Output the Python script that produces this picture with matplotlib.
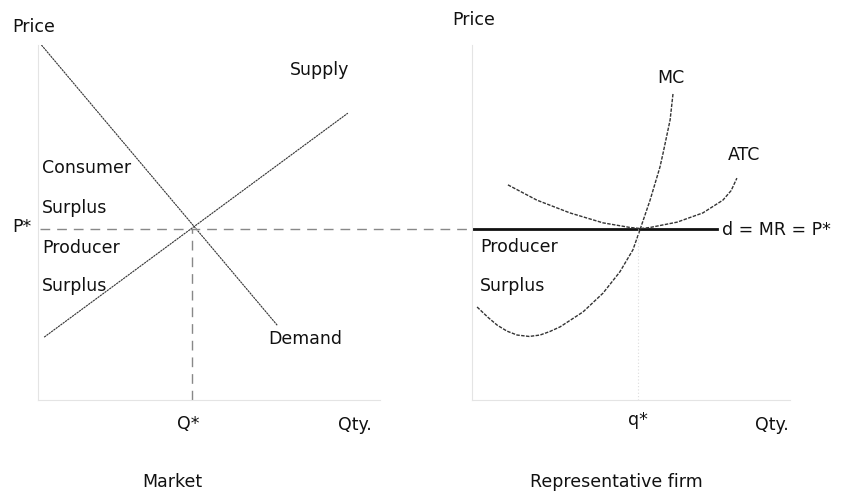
import numpy as np
import matplotlib
matplotlib.use("Agg")
import matplotlib.pyplot as plt

# market panel (quantity / price in arbitrary units 0-10)
demand_q = [0.1, 7.0]
demand_p = [10.0, 2.1]
supply_q = [0.18, 9.06]
supply_p = [1.77, 8.08]
p_star = 4.82
q_star = 4.5

# representative firm panel
mc_q = [0.16, 0.5, 0.79, 1.1, 1.42, 1.8, 2.14, 2.45, 2.77, 3.49, 4.12, 4.65, 5.06, 5.28,
        5.60, 5.91, 6.01, 6.23, 6.32]
mc_p = [2.62, 2.33, 2.11, 1.94, 1.83, 1.79, 1.83, 1.93, 2.06, 2.48, 3.01, 3.61, 4.23, 4.79,
        5.63, 6.56, 6.96, 7.89, 8.62]
atc_q = [1.13, 2.04, 3.08, 4.12, 4.97, 5.30, 5.60, 6.45, 7.26, 7.89, 8.15, 8.33]
atc_p = [6.06, 5.63, 5.27, 4.99, 4.86, 4.83, 4.86, 5.01, 5.27, 5.63, 5.90, 6.25]
q_firm = 5.22
mr_end = 7.7

W, H = 844, 491
fig = plt.figure(figsize=(W / 100, H / 100), dpi=100)


def box(x0, y0, x1, y1):
    return [x0 / W, 1 - y1 / H, (x1 - x0) / W, (y1 - y0) / H]


def label(x, y, s, **kw):
    fig.text(x / W, 1 - y / H, s, va="center", ha="left", fontsize=12.5,
             family="DejaVu Sans", color="#111111", **kw)


axis_col = "#e4e4e4"
line_col = "#333333"

ax1 = fig.add_axes(box(38, 45, 380, 400))
ax2 = fig.add_axes(box(472, 45, 790, 400))
for ax in (ax1, ax2):
    ax.set_xlim(0, 10)
    ax.set_ylim(0, 10)
    ax.set_xticks([])
    ax.set_yticks([])
    ax.spines["top"].set_visible(False)
    ax.spines["right"].set_visible(False)
    ax.spines["left"].set_color(axis_col)
    ax.spines["bottom"].set_color(axis_col)
    ax.patch.set_alpha(0)

# market
ax1.plot(demand_q, demand_p, color=line_col, lw=0.8, ls=(0, (2, 0.6)))
ax1.plot(supply_q, supply_p, color=line_col, lw=0.8, ls=(0, (2, 0.6)))
ax1.plot([0.05, 12.65], [p_star, p_star], color="#888888", lw=1.0,
         ls=(0, (7, 5)), clip_on=False)
ax1.plot([q_star, q_star], [0, p_star], color="#888888", lw=1.0, ls=(0, (7, 5)))

# firm
ax2.plot([0, mr_end], [p_star, p_star], color="#111111", lw=2.0)
ax2.plot(mc_q, mc_p, color=line_col, lw=1.0, ls=(0, (2.5, 1)))
ax2.plot(atc_q, atc_p, color=line_col, lw=1.0, ls=(0, (2.5, 1)))
ax2.plot([q_firm, q_firm], [0, p_star], color="#dddddd", lw=0.8, ls=(0, (1, 2)))

# labels
label(12, 27, "Price")
label(452, 20, "Price")
label(290, 70, "Supply")
label(42, 168, "Consumer")
label(42, 208, "Surplus")
label(12, 227, "P*")
label(42, 248, "Producer")
label(42, 286, "Surplus")
label(268, 339, "Demand")
label(177, 424, "Q*")
label(338, 425, "Qty.")
label(142, 482, "Market")
label(657, 78, "MC")
label(728, 155, "ATC")
label(722, 230, "d = MR = P*")
label(480, 247, "Producer")
label(480, 286, "Surplus")
label(628, 420, "q*")
label(755, 425, "Qty.")
label(530, 482, "Representative firm")

fig.savefig("out.png", dpi=100)
